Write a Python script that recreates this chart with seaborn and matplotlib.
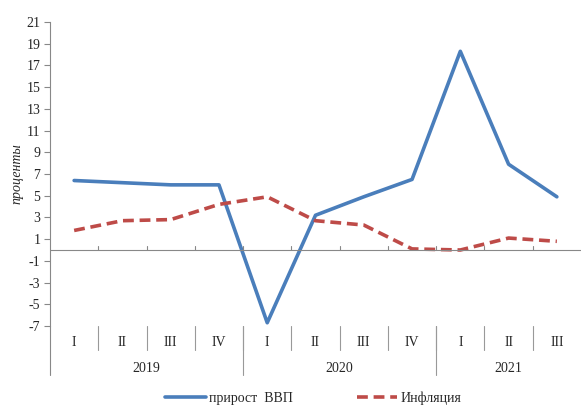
import numpy as np
import matplotlib.pyplot as plt
import matplotlib.transforms as mtransforms
import seaborn as sns
import pandas as pd

sns.set_style("white")
plt.rcParams['font.family'] = ['Liberation Serif', 'DejaVu Serif']
plt.rcParams['axes.unicode_minus'] = False

# данные
quarters = ["I", "II", "III", "IV", "I", "II", "III", "IV", "I", "II", "III"]
years = ["2019", "2020", "2021"]
year_quarters = [4, 4, 3]
gdp = [6.4, 6.2, 6.0, 6.0, -6.7, 3.2, 4.9, 6.5, 18.3, 7.9, 4.9]
inflation = [1.8, 2.7, 2.8, 4.2, 4.9, 2.7, 2.3, 0.1, 0.0, 1.1, 0.8]

idx = np.arange(len(quarters))
df = pd.DataFrame({"idx": idx, "gdp": gdp, "infl": inflation})

W, H = 581, 405
fig = plt.figure(figsize=(W / 100, H / 100), dpi=100)
ax = fig.add_axes([50 / W, 1 - 326 / H, 531 / W, 304 / H])

sns.lineplot(data=df, x="idx", y="gdp", ax=ax, color="#4A7EBB", lw=2.6,
             label="прирост  ВВП")
sns.lineplot(data=df, x="idx", y="infl", ax=ax, color="#BE4B48", lw=2.6,
             ls=(0, (3, 1.6)), label="Инфляция")

ax.set_xlim(-0.5, len(quarters) - 0.5)
ax.set_ylim(-7, 21)
ax.set_yticks(np.arange(-7, 22, 2))
ax.tick_params(axis="y", labelsize=10, length=4, width=0.8, color="#888888",
               direction="out", pad=3, left=True)
ax.set_xticks([])
ax.set_xlabel("")
ax.set_ylabel("проценты", fontsize=10, style="italic", labelpad=2)

for s in ["top", "right", "bottom"]:
    ax.spines[s].set_visible(False)
ax.spines["left"].set_color("#888888")
ax.spines["left"].set_linewidth(0.8)

# нулевая линия с засечками
ax.axhline(0, color="#888888", lw=0.8)
trans = mtransforms.blended_transform_factory(ax.transData, ax.transAxes)
px = 1 / 304
zero_ax = 7 / 28
for b in idx[1:] - 0.5:
    ax.plot([b, b], [zero_ax, zero_ax + 4 * px], transform=trans,
            color="#888888", lw=0.8, clip_on=False)

# подписи категорий
for i, q in enumerate(quarters):
    ax.text(i, -16 * px, q, transform=trans, ha="center", va="center",
            fontsize=10)
    if i > 0:
        ax.plot([i - 0.5, i - 0.5], [0, -24 * px], transform=trans,
                color="#999999", lw=0.8, clip_on=False)

ax.plot([-0.5, -0.5], [0, -49 * px], transform=trans, color="#888888",
        lw=0.8, clip_on=False)
start = 0
for y, n in zip(years, year_quarters):
    ax.text(start + (n - 1) / 2, -42 * px, y, transform=trans, ha="center",
            va="center", fontsize=10)
    if start > 0:
        ax.plot([start - 0.5, start - 0.5], [0, -49 * px], transform=trans,
                color="#999999", lw=0.8, clip_on=False)
    start += n

ax.legend(loc="center", bbox_to_anchor=((313.5 - 50) / 531, -72 * px),
          ncol=2, frameon=False, fontsize=10, handlelength=2.9,
          columnspacing=4.6, handletextpad=0.25)

fig.savefig("out.png", dpi=100)
